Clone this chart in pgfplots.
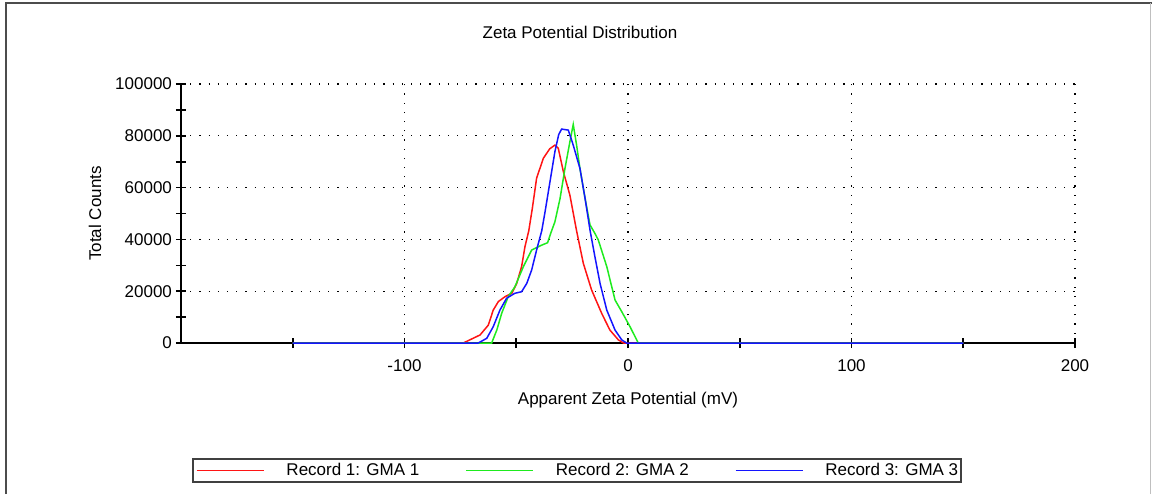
\documentclass[border=0pt]{standalone}
\usepackage{pgfplots}
\pgfplotsset{compat=1.18}
\usepackage{fontspec}
\setmainfont{Liberation Sans}
\definecolor{rred}{RGB}{255,20,20}
\definecolor{rgreen}{RGB}{30,235,30}
\definecolor{rblue}{RGB}{20,20,255}
\begin{document}
\begin{tikzpicture}
\fontsize{8.5}{10}\selectfont
\path[use as bounding box] (0,0) rectangle (576pt,247pt);
\draw[line width=1pt, black!70] (3pt,0) -- (3pt,245.5pt) -- (576pt,245.5pt);
\draw[line width=0.6pt, black!25] (575.2pt,0) -- (575.2pt,245.5pt);
\begin{axis}[
  at={(90.5pt,75.5pt)}, anchor=south west,
  scale only axis, width=447pt, height=129.5pt,
  xmin=-200, xmax=200, ymin=0, ymax=100000,
  axis lines=left, axis line style={line width=0.8pt, -},
  xtick={-100,0,100,200}, xticklabels={-100,0,100,200},
  minor xtick={-150,-50,50,150},
  ytick={0,20000,40000,60000,80000,100000},
  yticklabels={0,20000,40000,60000,80000,100000},
  minor ytick={10000,30000,50000,70000,90000},
  scaled y ticks=false,
  tick align=center,
  major tick length=5pt, minor tick length=5pt,
  tick style={line width=0.8pt, black},
  grid=major,
  major grid style={black, line width=0.6pt, dash pattern=on 0.6pt off 4pt},
  ticklabel style={font=\fontsize{8.5}{10}\selectfont},
  xticklabel style={yshift=-3pt},
  yticklabel style={xshift=1pt},
  xlabel={Apparent Zeta Potential (mV)},
  ylabel={Total Counts},
  xlabel style={at={(axis description cs:0.5,-0.22)}, anchor=center, font=\fontsize{8.5}{10}\selectfont},
  ylabel style={at={(axis description cs:-0.0962,0.5)}, anchor=center, rotate=0, font=\fontsize{8.5}{10}\selectfont},
  title={Zeta Potential Distribution},
  title style={at={(axis description cs:0.4463,1.1545)}, anchor=center, font=\fontsize{8.5}{10}\selectfont},
  legend columns=3,
  legend image code/.code={\draw[#1, line width=0.75pt] (0pt,0pt) -- (33.5pt,0pt);},
  legend style={at={(axis description cs:0.0123,-0.5405)}, anchor=south west,
    draw=black!75, line width=1pt, inner xsep=1.5pt, inner ysep=2pt,
    font=\fontsize{8.5}{10}\selectfont,
    nodes={inner sep=0pt, line width=0.75pt},
    /tikz/every odd column/.append style={column sep=11pt},
    /tikz/every even column/.append style={column sep=23pt}},
  legend cell align=left,
]
\addplot[rred, line width=0.75pt] coordinates {
(-150,0) (-73.7,0) (-66.2,3100) (-62.5,6900) (-60.3,12700) (-58,16000) (-55,17900)
(-52,19200) (-49.8,23000) (-47.6,29500) (-46.1,37200) (-44.4,43300) (-42.8,52000)
(-40.9,63600) (-37.9,71300) (-35,75000) (-32.7,76400) (-31.2,75200) (-28.9,66100)
(-26,57100) (-23,43300) (-20,30800) (-16.3,20500) (-11.8,11500) (-8.1,5000)
(-4.3,1200) (-2,0) (150,0)};
\addplot[rgreen, line width=0.75pt] coordinates {
(-150,0) (-61,0) (-58.7,5000) (-56.5,11500) (-53.6,17900) (-50.6,21700) (-46.8,29500)
(-43.1,35900) (-38.6,37800) (-36,38700) (-34.6,42300) (-32.7,46800) (-30.4,55800)
(-28.2,67400) (-26,77700) (-24.5,84400) (-23,76400) (-21.5,67400) (-19.2,55800)
(-17,45600) (-14.8,42300) (-13.3,39800) (-9.5,29500) (-5.8,16600) (-2.8,12100)
(0.9,6300) (4.6,0) (150,0)};
\addplot[rblue, line width=0.75pt] coordinates {
(-150,0) (-67,0) (-63.2,1800) (-60.3,6300) (-57.3,12700) (-54.3,17300) (-50.6,19200)
(-47.6,19800) (-45.3,23000) (-43.1,28200) (-40.9,35900) (-38.6,43300) (-37.1,50700)
(-34.9,62300) (-32.7,73900) (-31,80500) (-29.7,82600) (-26.7,82200) (-24.5,76400)
(-21.5,67400) (-19.2,55800) (-17,43600) (-14.8,33300) (-12.5,23000) (-9.5,12700)
(-5.8,5000) (-2.8,1200) (-0.6,0) (150,0)};
\legend{Record 1: GMA 1, Record 2: GMA 2, Record 3: GMA 3}
\end{axis}
\end{tikzpicture}
\end{document}
